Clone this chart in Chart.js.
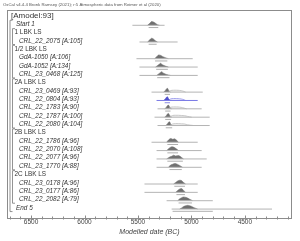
<!DOCTYPE html>
<html>
<head>
<meta charset="utf-8">
<script src="https://cdn.jsdelivr.net/npm/chart.js@4.4.1/dist/chart.umd.min.js"></script>
<style>
html, body { margin: 0; padding: 0; background: #fff; }
#wrap { width: 300px; height: 241px; position: relative; }
</style>
</head>
<body>
<div id="wrap"><canvas id="oxcal"></canvas></div>
<script>
var header = 'OxCal v4.4.4 Bronk Ramsey (2021); r:5 Atmospheric data from Reimer et al (2020)';

var rowLabels = ['[Amodel:93]', 'Start 1', '1 LBK LS', 'CRL_22_2075 [A:105]', '1/2 LBK LS',
  'GdA-1050 [A:106]', 'GdA-1052 [A:134]', 'CRL_23_0468 [A:125]', '2A LBK LS',
  'CRL_23_0469 [A:93]', 'CRL_22_0804 [A:93]', 'CRL_22_1783 [A:90]', 'CRL_22_1787 [A:100]',
  'CRL_22_2080 [A:104]', '2B LBK LS', 'CRL_22_1786 [A:96]', 'CRL_22_2070 [A:108]',
  'CRL_22_2077 [A:96]', 'CRL_23_1770 [A:88]', '2C LBK LS', 'CRL_23_0178 [A:96]',
  'CRL_23_0177 [A:86]', 'CRL_22_2082 [A:79]', 'End 5'];
var rowKind = ['model', 'bound', 'phase', 'date', 'phase', 'date', 'date', 'date', 'phase',
  'date', 'date', 'date', 'date', 'date', 'phase', 'date', 'date', 'date', 'date', 'phase',
  'date', 'date', 'date', 'bound'];

// phases: first row, last row
var phaseStart = [2, 4, 8, 14, 19];
var phaseEnd = [3, 7, 13, 18, 22];

// long faint range line under each distribution (years BC)
var lineFrom = [null, 5552, null, 5486, null, 5514, 5486, 5486, null, 5373, 5326, 5317, 5345, 5317,
  null, 5373, 5326, 5326, 5326, null, 5439, 5439, 5232, 5185];
var lineTo = [null, 5251, null, 5129, null, 4988, 4941, 4941, null, 4894, 4941, 4904, 4829, 4829,
  null, 4941, 4904, 4857, 4904, null, 4941, 4941, 4800, 4246];

// 95% range bars
var rangeFrom = [null, 5400, null, 5400, null, 5340, 5330, 5320, null, 5250, 5250, 5245, 5245, 5240,
  null, 5225, 5225, 5225, 5205, null, 5160, 5140, 5120, 5176];
var rangeTo = [null, 5310, null, 5325, null, 5225, 5220, 5205, null, 5200, 5200, 5195, 5190, 5180,
  null, 5125, 5125, 5080, 5090, null, 5060, 5060, 4995, 4800];

// modelled (posterior) distributions
var peakYears = [null,
  [5411, 5392, 5373, 5355, 5336, 5317, 5298], null,
  [5411, 5392, 5373, 5355, 5336, 5317], null,
  [5345, 5326, 5307, 5289, 5270, 5242, 5214],
  [5336, 5317, 5298, 5289, 5270, 5242, 5214],
  [5326, 5307, 5289, 5279, 5260, 5232, 5195], null,
  [5260, 5242, 5232, 5223, 5214, 5195],
  [5260, 5242, 5232, 5223, 5214, 5195],
  [5251, 5232, 5223, 5214, 5204, 5185],
  [5251, 5232, 5223, 5214, 5204, 5185],
  [5242, 5223, 5214, 5204, 5195, 5176], null,
  [5232, 5214, 5195, 5176, 5157, 5138, 5120],
  [5232, 5214, 5195, 5176, 5157, 5138, 5120],
  [5232, 5204, 5185, 5167, 5148, 5120, 5092, 5073],
  [5214, 5195, 5176, 5157, 5138, 5110, 5082], null,
  [5167, 5148, 5129, 5110, 5092, 5073, 5054],
  [5148, 5129, 5110, 5092, 5073, 5054],
  [5129, 5110, 5092, 5073, 5054, 5035, 5016, 4997, 4988],
  [5110, 5092, 5073, 5054, 5035, 5016, 4997, 4978, 4960, 4941]];
var peakDens = [null,
  [0, 0.45, 1, 0.9, 0.55, 0.15, 0], null,
  [0, 0.5, 1, 0.8, 0.3, 0], null,
  [0, 0.5, 1, 0.9, 0.6, 0.25, 0],
  [0, 0.4, 0.8, 1, 0.6, 0.25, 0],
  [0, 0.4, 0.8, 1, 0.6, 0.25, 0], null,
  [0, 0.5, 0.9, 1, 0.5, 0],
  [0, 0.5, 0.9, 1, 0.5, 0],
  [0, 0.5, 0.9, 1, 0.5, 0],
  [0, 0.5, 0.9, 1, 0.5, 0],
  [0, 0.5, 0.9, 1, 0.5, 0], null,
  [0, 0.6, 1, 0.8, 0.9, 0.5, 0],
  [0, 0.5, 0.9, 1, 0.8, 0.4, 0],
  [0, 0.5, 0.7, 1, 0.8, 0.9, 0.4, 0],
  [0, 0.6, 0.8, 1, 0.9, 0.5, 0], null,
  [0, 0.4, 0.8, 1, 0.9, 0.4, 0],
  [0, 0.5, 0.9, 1, 0.5, 0],
  [0, 0.5, 0.8, 1, 0.9, 0.7, 0.4, 0.15, 0],
  [0, 0.3, 0.7, 0.9, 1, 0.9, 0.7, 0.4, 0.2, 0]];

// unmodelled (prior) humps that stick out of the 2A posteriors
var humpYears = {
  9: [5214, 5195, 5167, 5138, 5110, 5082, 5054],
  10: [5214, 5195, 5167, 5138, 5110, 5082, 5054],
  11: [5214, 5195, 5167, 5138, 5110, 5082, 5045],
  12: [5204, 5176, 5148, 5120, 5092, 5063, 5035, 4997],
  13: [5204, 5176, 5148, 5120, 5092, 5063, 5035, 4978]
};
var humpDens = {
  9: [0, 0.4, 0.5, 0.5, 0.45, 0.3, 0],
  10: [0, 0.4, 0.5, 0.5, 0.45, 0.3, 0],
  11: [0, 0.4, 0.5, 0.5, 0.45, 0.3, 0],
  12: [0, 0.45, 0.5, 0.5, 0.45, 0.4, 0.2, 0],
  13: [0, 0.4, 0.5, 0.5, 0.45, 0.4, 0.2, 0]
};

var highlightRow = 10;
var xTicks = [6500, 6000, 5500, 5000, 4500];

var BASE = 0.15, HEIGHT = 0.45;
var datasets = [];

rowLabels.forEach(function(lab, i){
  if (lineFrom[i] == null) return;
  var blue = (i === highlightRow);
  var lineCol = blue ? '#7a7ae6' : '#b4b4b4';
  var fillCol = blue ? '#5050cc' : '#707070';
  var y0 = i + BASE;

  datasets.push({
    data: [{x: lineFrom[i], y: y0}, {x: lineTo[i], y: y0}],
    borderColor: lineCol, borderWidth: 1, pointRadius: 0, fill: false
  });

  if (humpYears[i]) {
    datasets.push({
      data: humpYears[i].map(function(yr, k){ return {x: yr, y: y0 - humpDens[i][k] * HEIGHT}; }),
      borderColor: blue ? '#8c8ce8' : '#bcbcbc', borderWidth: 0.8,
      backgroundColor: blue ? 'rgba(120,120,230,0.12)' : 'rgba(200,200,200,0.25)',
      pointRadius: 0, tension: 0.4, fill: {value: y0}
    });
  }

  datasets.push({
    data: peakYears[i].map(function(yr, k){ return {x: yr, y: y0 - peakDens[i][k] * HEIGHT}; }),
    borderColor: fillCol, borderWidth: 0.5, backgroundColor: fillCol,
    pointRadius: 0, tension: 0.3, fill: {value: y0}
  });

  datasets.push({
    data: [{x: rangeFrom[i], y: i + 0.42}, {x: rangeTo[i], y: i + 0.42}],
    borderColor: blue ? '#6e6ed8' : '#9a9a9a', borderWidth: 0.8, pointRadius: 0, fill: false
  });
});

var oxcalDecor = {
  id: 'oxcalDecor',
  afterDatasetsDraw: function(chart){
    var ctx = chart.ctx, a = chart.chartArea, ys = chart.scales.y, xs = chart.scales.x;
    ctx.save();

    // frame
    ctx.strokeStyle = '#8c8c8c';
    ctx.lineWidth = 1;
    ctx.strokeRect(Math.round(a.left) + 0.5, Math.round(a.top) + 0.5,
      Math.round(a.right - a.left) - 1, Math.round(a.bottom - a.top));

    // axis ticks every 100 years
    var yb = Math.round(a.bottom) + 0.5;
    for (var yr = 4100; yr <= 6700; yr += 100) {
      var px = Math.round(xs.getPixelForValue(yr)) + 0.5;
      var major = (yr % 500 === 0);
      ctx.beginPath();
      ctx.moveTo(px, yb - (major ? 2 : 1));
      ctx.lineTo(px, yb + (major ? 3 : 2));
      ctx.stroke();
    }

    // header
    ctx.fillStyle = '#555';
    ctx.font = '4.3px "Liberation Sans", Arial, sans-serif';
    ctx.textBaseline = 'middle';
    ctx.textAlign = 'left';
    ctx.fillText(header, 3, 5);

    // row labels
    ctx.fillStyle = '#333';
    rowLabels.forEach(function(lab, i){
      var k = rowKind[i];
      var x = a.left + (k === 'model' ? 4 : k === 'bound' ? 9 : k === 'phase' ? 7.5 : 12);
      var italic = (k === 'bound' || k === 'date');
      var size = (k === 'model') ? 8 : 6.4;
      ctx.font = (italic ? 'italic ' : '') + size + 'px "Liberation Sans", Arial, sans-serif';
      ctx.fillText(lab, x, ys.getPixelForValue(i));
    });

    // brackets
    ctx.strokeStyle = '#777';
    ctx.lineWidth = 0.8;
    function bracket(x, r0, r1){
      var t = ys.getPixelForValue(r0 - 0.45), b = ys.getPixelForValue(r1 + 0.45);
      ctx.beginPath();
      ctx.moveTo(x + 2.5, t); ctx.lineTo(x, t); ctx.lineTo(x, b); ctx.lineTo(x + 2.5, b);
      ctx.stroke();
    }
    bracket(a.left + 3, 1, 23);
    phaseStart.forEach(function(r0, j){ bracket(a.left + 5.5, r0, phaseEnd[j]); });

    ctx.restore();
  }
};

new Chart(document.getElementById('oxcal'), {
  type: 'scatter',
  data: { datasets: datasets },
  options: {
    responsive: true,
    maintainAspectRatio: false,
    animation: false,
    showLine: true,
    layout: { padding: { left: 7, right: 8, top: 9.5, bottom: 0 } },
    plugins: { legend: { display: false }, tooltip: { enabled: false } },
    elements: { line: { borderJoinStyle: 'round' } },
    scales: {
      x: {
        type: 'linear',
        reverse: true,
        min: 4059,
        max: 6725,
        afterFit: function(scale){ scale.height = 24; },
        afterBuildTicks: function(scale){
          scale.ticks = xTicks.map(function(v){ return {value: v}; });
        },
        grid: { display: false, drawTicks: false },
        border: { display: false },
        ticks: {
          padding: 1,
          maxRotation: 0,
          autoSkip: false,
          color: '#444',
          font: { family: '"Liberation Sans", Arial, sans-serif', size: 6.5 },
          callback: function(v){ return String(v); }
        },
        title: {
          display: true,
          text: 'Modelled date (BC)',
          color: '#444',
          padding: { top: 0, bottom: 4.8 },
          font: { family: '"Liberation Sans", Arial, sans-serif', size: 7, style: 'italic' }
        }
      },
      y: {
        type: 'linear',
        display: false,
        reverse: true,
        min: -0.74,
        max: 24.1
      }
    }
  },
  plugins: [oxcalDecor]
});
</script>
</body>
</html>
